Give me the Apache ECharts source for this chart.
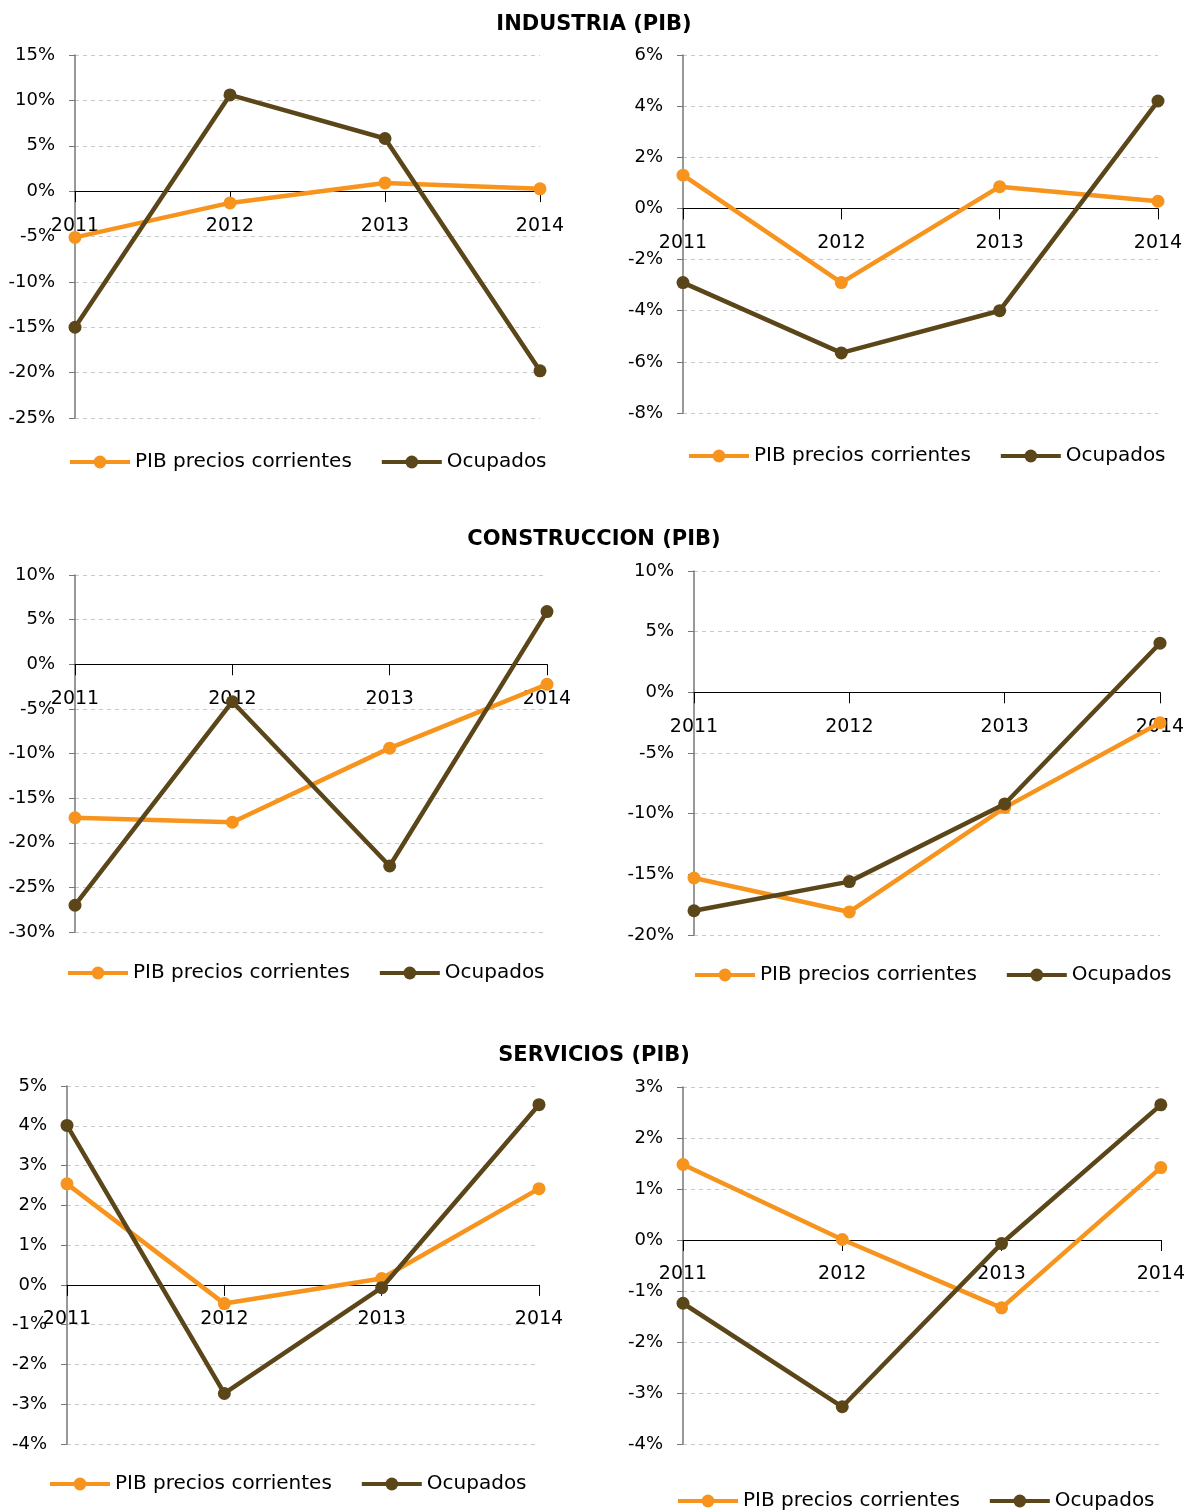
<!DOCTYPE html>
<html>
<head>
<meta charset="utf-8">
<title>PIB y ocupados por sector</title>
<script src="https://cdn.jsdelivr.net/npm/echarts@6/dist/echarts.min.js"></script>
<style>
  html, body { margin: 0; padding: 0; background: #fff; }
  #chart { width: 1188px; height: 1510px; }
</style>
</head>
<body>
<div id="chart"></div>
<script>
// data
const years = ['2011', '2012', '2013', '2014'];
const seriesNames = ['PIB precios corrientes', 'Ocupados'];
const sectionTitles = ['INDUSTRIA (PIB)', 'CONSTRUCCION (PIB)', 'SERVICIOS (PIB)'];

const indPibLeft = [-5.1, -1.3, 0.9, 0.25];
const indOcuLeft = [-15.0, 10.6, 5.8, -19.8];
const indPibRight = [1.3, -2.9, 0.85, 0.28];
const indOcuRight = [-2.9, -5.65, -4.0, 4.2];

const conPibLeft = [-17.2, -17.7, -9.4, -2.25];
const conOcuLeft = [-27.0, -4.2, -22.6, 5.9];
const conPibRight = [-15.3, -18.1, -9.5, -2.5];
const conOcuRight = [-18.0, -15.6, -9.2, 4.05];

const serPibLeft = [2.54, -0.47, 0.16, 2.42];
const serOcuLeft = [4.01, -2.73, -0.07, 4.53];
const serPibRight = [1.48, 0.01, -1.33, 1.42];
const serOcuRight = [-1.24, -3.27, -0.07, 2.65];

const orange = '#F7941E';
const brown = '#5B4619';
const fontFamily = 'DejaVu Sans';

// one entry per small chart
const panels = [
    { pib: indPibLeft, ocu: indOcuLeft, min: -25, max: 15, step: 5, grid: [75, 55, 465, 363], legend: [63, 447] },
    { pib: indPibRight, ocu: indOcuRight, min: -8, max: 6, step: 2, grid: [683, 55, 475, 358], legend: [682, 441] },
    { pib: conPibLeft, ocu: conOcuLeft, min: -30, max: 10, step: 5, grid: [75, 575, 472, 357], legend: [61, 958] },
    { pib: conPibRight, ocu: conOcuRight, min: -20, max: 10, step: 5, grid: [694, 571, 466, 364], legend: [688, 960] },
    { pib: serPibLeft, ocu: serOcuLeft, min: -4, max: 5, step: 1, grid: [67, 1086, 472, 358], legend: [43, 1469] },
    { pib: serPibRight, ocu: serOcuRight, min: -4, max: 3, step: 1, grid: [683, 1087, 478, 357], legend: [671, 1486] },
];

const titleTops = [9, 524, 1040];

const grids = [], xAxes = [], yAxes = [], legends = [], series = [];

panels.forEach((p, i) => {
    // the category axis sits on the zero line, labels included
    const zeroFromBottom = p.grid[3] * (0 - p.min) / (p.max - p.min);
    grids.push({ left: p.grid[0], top: p.grid[1], width: p.grid[2], height: p.grid[3] });
    xAxes.push({
        type: 'category',
        gridIndex: i,
        data: years,
        boundaryGap: false,
        offset: -zeroFromBottom,
        axisLine: { onZero: false, lineStyle: { color: '#000', width: 1 } },
        axisTick: { show: true, length: 11, lineStyle: { color: '#000' } },
        axisLabel: { color: '#000', fontSize: 19, fontFamily: fontFamily, margin: 25, interval: 0 },
        splitLine: { show: false },
        z: 1
    });
    yAxes.push({
        type: 'value',
        gridIndex: i,
        min: p.min,
        max: p.max,
        interval: p.step,
        axisLine: { show: true, lineStyle: { color: '#777', width: 1.5 } },
        axisTick: { show: true, length: 6, lineStyle: { color: '#777' } },
        axisLabel: { color: '#000', fontSize: 18, fontFamily: fontFamily, margin: 20, formatter: '{value}%' },
        splitLine: { show: true, lineStyle: { color: '#c9c9c9', type: [4, 4], width: 1 } }
    });
    legends.push({
        left: p.legend[0],
        top: p.legend[1],
        data: seriesNames,
        itemWidth: 60,
        itemHeight: 16,
        itemGap: 28,
        lineStyle: { width: 4 },
        textStyle: { color: '#000', fontSize: 20, fontFamily: fontFamily },
        selectedMode: false
    });
    series.push({
        name: seriesNames[0], type: 'line', xAxisIndex: i, yAxisIndex: i,
        data: p.pib, color: orange,
        lineStyle: { width: 4.5, color: orange }, itemStyle: { color: orange },
        symbol: 'circle', symbolSize: 13, z: 3
    });
    series.push({
        name: seriesNames[1], type: 'line', xAxisIndex: i, yAxisIndex: i,
        data: p.ocu, color: brown,
        lineStyle: { width: 4.5, color: brown }, itemStyle: { color: brown },
        symbol: 'circle', symbolSize: 13, z: 4
    });
});

const titles = sectionTitles.map((t, i) => ({
    text: t,
    left: 'center',
    top: titleTops[i],
    textStyle: { color: '#000', fontSize: 21, fontWeight: 'bold', fontFamily: fontFamily }
}));

const myChart = echarts.init(document.getElementById('chart'), null, { renderer: 'canvas' });
myChart.setOption({
    backgroundColor: '#fff',
    animation: false,
    title: titles,
    grid: grids,
    xAxis: xAxes,
    yAxis: yAxes,
    legend: legends,
    series: series
});
</script>
</body>
</html>
